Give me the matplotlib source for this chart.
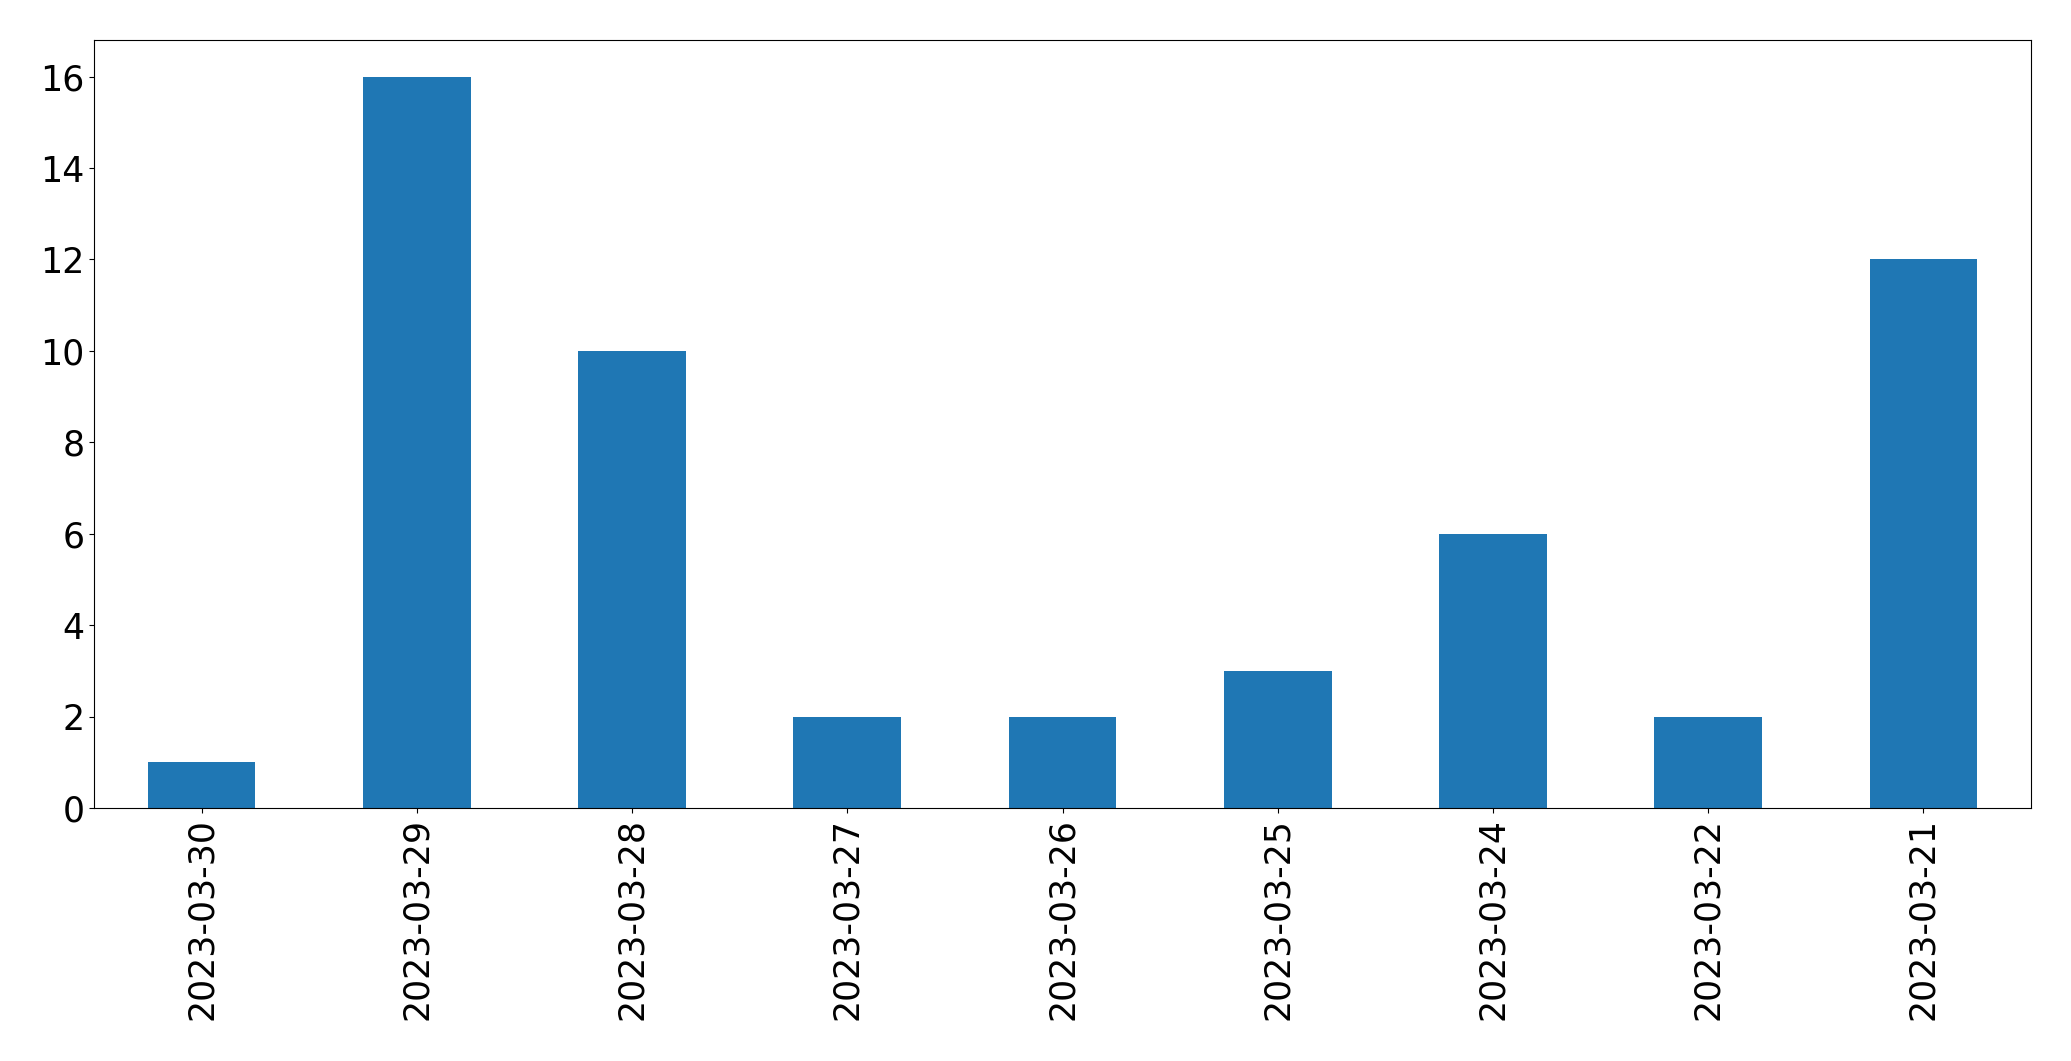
import numpy as np
import matplotlib
matplotlib.use("Agg")
import matplotlib.pyplot as plt

dates = ["2023-03-30", "2023-03-29", "2023-03-28", "2023-03-27", "2023-03-26",
         "2023-03-25", "2023-03-24", "2023-03-22", "2023-03-21"]
counts = [1, 16, 10, 2, 2, 3, 6, 2, 12]

fig = plt.figure(figsize=(20.71, 10.61), dpi=100)
ax = fig.add_axes([94 / 2071, 1 - 808 / 1061, (2031 - 94) / 2071, (808 - 40) / 1061])

x = np.arange(len(dates))
ax.bar(x, counts, width=0.5, color="#1f77b4")
ax.set_xlim(-0.5, len(dates) - 0.5)
ax.set_ylim(0, 16.8)
ax.set_yticks(range(0, 17, 2))
ax.set_xticks(x)
ax.set_xticklabels(dates, rotation=90)
ax.tick_params(labelsize=25)

fig.savefig("out.png", dpi=100)
